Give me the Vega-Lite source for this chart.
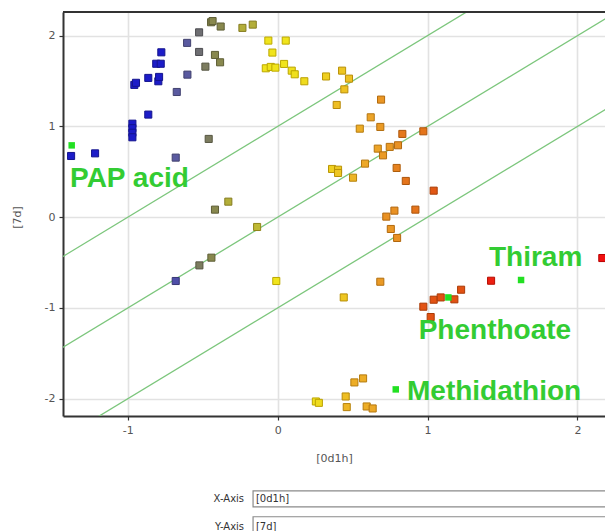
{
  "$schema": "https://vega.github.io/schema/vega-lite/v6.json",
  "autosize": "none",
  "width": 542,
  "height": 404,
  "padding": {"left": 63, "top": 12, "right": 0, "bottom": 115},
  "background": "white",
  "config": {
    "view": {"stroke": null},
    "axis": {
      "grid": true,
      "gridColor": "#e2e2e2",
      "gridWidth": 1.6,
      "domainColor": "#333333",
      "domainWidth": 2,
      "tickColor": "#333333",
      "tickSize": 4,
      "tickWidth": 1.2,
      "labelFont": "DejaVu Sans",
      "labelFontSize": 11,
      "labelColor": "#555555",
      "titleFont": "DejaVu Sans",
      "titleFontSize": 11,
      "titleFontWeight": "normal",
      "titleColor": "#555555"
    }
  },
  "datasets": {
    "points": [
      {"x": -1.378, "y": 0.674, "v": 0},
      {"x": -1.218, "y": 0.703, "v": 0},
      {"x": -0.969, "y": 1.03, "v": 0},
      {"x": -0.969, "y": 0.98, "v": 0},
      {"x": -0.969, "y": 0.93, "v": 0},
      {"x": -0.969, "y": 0.88, "v": 0},
      {"x": -0.863, "y": 1.13, "v": 0},
      {"x": -0.956, "y": 1.457, "v": 0},
      {"x": -0.945, "y": 1.48, "v": 0},
      {"x": -0.863, "y": 1.534, "v": 0},
      {"x": -0.796, "y": 1.497, "v": 0},
      {"x": -0.791, "y": 1.545, "v": 0},
      {"x": -0.81, "y": 1.69, "v": 0},
      {"x": -0.78, "y": 1.69, "v": 0},
      {"x": -0.776, "y": 1.816, "v": 0},
      {"x": -0.673, "y": 1.379, "v": 0.15},
      {"x": -0.602, "y": 1.57, "v": 0.15},
      {"x": -0.604, "y": 1.92, "v": 0.15},
      {"x": -0.68, "y": 0.656, "v": 0.15},
      {"x": -0.68, "y": -0.703, "v": 0.12},
      {"x": -0.524, "y": 2.036, "v": 0.25},
      {"x": -0.524, "y": 1.82, "v": 0.25},
      {"x": -0.482, "y": 1.658, "v": 0.32},
      {"x": -0.46, "y": 0.862, "v": 0.32},
      {"x": -0.522, "y": -0.531, "v": 0.32},
      {"x": -0.444, "y": 2.147, "v": 0.38},
      {"x": -0.434, "y": 2.16, "v": 0.38},
      {"x": -0.38, "y": 2.1, "v": 0.38},
      {"x": -0.418, "y": 1.787, "v": 0.38},
      {"x": -0.384, "y": 1.706, "v": 0.38},
      {"x": -0.418, "y": 0.083, "v": 0.38},
      {"x": -0.442, "y": -0.446, "v": 0.38},
      {"x": -0.329, "y": 0.171, "v": 0.45},
      {"x": -0.235, "y": 2.085, "v": 0.45},
      {"x": -0.166, "y": 2.121, "v": 0.45},
      {"x": -0.137, "y": -0.108, "v": 0.47},
      {"x": -0.062, "y": 1.945, "v": 0.55},
      {"x": 0.054, "y": 1.945, "v": 0.55},
      {"x": -0.035, "y": 1.813, "v": 0.55},
      {"x": -0.079, "y": 1.64, "v": 0.55},
      {"x": -0.046, "y": 1.655, "v": 0.55},
      {"x": -0.015, "y": 1.647, "v": 0.55},
      {"x": 0.043, "y": 1.688, "v": 0.55},
      {"x": 0.094, "y": 1.614, "v": 0.56},
      {"x": 0.114, "y": 1.574, "v": 0.56},
      {"x": -0.009, "y": -0.703, "v": 0.55},
      {"x": 0.178, "y": 1.497, "v": 0.57},
      {"x": 0.255, "y": -2.03, "v": 0.56},
      {"x": 0.275, "y": -2.045, "v": 0.57},
      {"x": 0.323, "y": 1.55, "v": 0.6},
      {"x": 0.43, "y": 1.614, "v": 0.62},
      {"x": 0.476, "y": 1.526, "v": 0.63},
      {"x": 0.445, "y": 1.408, "v": 0.63},
      {"x": 0.394, "y": 1.236, "v": 0.64},
      {"x": 0.363, "y": 0.531, "v": 0.6},
      {"x": 0.403, "y": 0.523, "v": 0.61},
      {"x": 0.403, "y": 0.487, "v": 0.62},
      {"x": 0.441, "y": -0.884, "v": 0.62},
      {"x": 0.454, "y": -1.975, "v": 0.64},
      {"x": 0.548, "y": 0.975, "v": 0.68},
      {"x": 0.621, "y": 1.1, "v": 0.7},
      {"x": 0.503, "y": 0.435, "v": 0.66},
      {"x": 0.583, "y": 0.59, "v": 0.69},
      {"x": 0.668, "y": 0.755, "v": 0.7},
      {"x": 0.703, "y": 0.681, "v": 0.72},
      {"x": 0.748, "y": 0.774, "v": 0.72},
      {"x": 0.685, "y": 0.994, "v": 0.72},
      {"x": 0.69, "y": 1.295, "v": 0.73},
      {"x": 0.803, "y": 0.792, "v": 0.74},
      {"x": 0.725, "y": 0.006, "v": 0.74},
      {"x": 0.779, "y": 0.072, "v": 0.74},
      {"x": 0.755, "y": -0.13, "v": 0.73},
      {"x": 0.797, "y": -0.229, "v": 0.74},
      {"x": 0.685, "y": -0.711, "v": 0.72},
      {"x": 0.57, "y": -1.776, "v": 0.68},
      {"x": 0.512, "y": -1.82, "v": 0.68},
      {"x": 0.461, "y": -2.092, "v": 0.66},
      {"x": 0.594, "y": -2.085, "v": 0.68},
      {"x": 0.634, "y": -2.107, "v": 0.69},
      {"x": 0.832, "y": 0.917, "v": 0.79},
      {"x": 0.794, "y": 0.542, "v": 0.77},
      {"x": 0.855, "y": 0.399, "v": 0.8},
      {"x": 0.919, "y": 0.083, "v": 0.8},
      {"x": 0.972, "y": 0.946, "v": 0.8},
      {"x": 1.041, "y": 0.292, "v": 0.86},
      {"x": 0.972, "y": -0.986, "v": 0.87},
      {"x": 1.041, "y": -0.909, "v": 0.87},
      {"x": 1.088, "y": -0.884, "v": 0.87},
      {"x": 1.179, "y": -0.905, "v": 0.87},
      {"x": 1.224, "y": -0.799, "v": 0.87},
      {"x": 1.021, "y": -1.1, "v": 0.87},
      {"x": 1.424, "y": -0.7, "v": 0.97},
      {"x": 2.166, "y": -0.45, "v": 1}
    ],
    "highlights": [
      {"x": -1.374, "y": 0.791},
      {"x": 1.139, "y": -0.884},
      {"x": 1.624, "y": -0.692},
      {"x": 0.788, "y": -1.897}
    ],
    "labels": [
      {"x": -1.385, "y": 0.333, "label": "PAP acid"},
      {"x": 1.41, "y": -0.542, "label": "Thiram"},
      {"x": 0.941, "y": -1.342, "label": "Phenthoate"},
      {"x": 0.863, "y": -2.011, "label": "Methidathion"}
    ],
    "lines": [
      {"line": "upper", "x": -1.6, "y": -0.6},
      {"line": "upper", "x": 2.4, "y": 3.4},
      {"line": "middle", "x": -1.6, "y": -1.6},
      {"line": "middle", "x": 2.4, "y": 2.4},
      {"line": "lower", "x": -1.6, "y": -2.6},
      {"line": "lower", "x": 2.4, "y": 1.4}
    ],
    "one": [{}]
  },
  "layer": [
    {
      "data": {"name": "lines"},
      "mark": {"type": "line", "clip": true, "color": "#7cc67c", "strokeWidth": 1.3},
      "encoding": {
        "x": {"field": "x", "type": "quantitative", "scale": {"domain": [-1.432, 2.184], "nice": false, "zero": false},
          "axis": {"title": "[0d1h]", "values": [-1, 0, 1, 2], "labelExpr": "datum.value + ''", "labelPadding": 4, "titleBaseline": "middle", "titleY": 42}},
        "y": {"field": "y", "type": "quantitative", "scale": {"domain": [-2.19, 2.26], "nice": false, "zero": false},
          "axis": {"title": "[7d]", "values": [-2, -1, 0, 1, 2], "labelExpr": "datum.value + ''", "labelPadding": 4, "titleX": -46, "titleY": 205, "titleBaseline": "middle"}},
        "detail": {"field": "line"}
      }
    },
    {
      "data": {"name": "points"},
      "mark": {"type": "point", "shape": "square", "filled": true, "size": 50, "strokeWidth": 1, "opacity": 1},
      "encoding": {
        "x": {"field": "x", "type": "quantitative"},
        "y": {"field": "y", "type": "quantitative"},
        "fill": {"field": "v", "type": "quantitative", "legend": null,
          "scale": {"domain": [0, 0.15, 0.25, 0.38, 0.55, 0.7, 0.85, 1], "interpolate": "rgb",
                    "range": ["#1c1cc8", "#5a5aa0", "#6e6e72", "#88884e", "#f0e41c", "#eca428", "#e05c14", "#f01010"]}},
        "stroke": {"field": "v", "type": "quantitative", "legend": null,
          "scale": {"domain": [0, 0.15, 0.25, 0.38, 0.55, 0.7, 0.85, 1], "interpolate": "rgb",
                    "range": ["#14148e", "#40406e", "#4c4c50", "#5e5e36", "#bca800", "#b47410", "#a84408", "#b80000"]}}
      }
    },
    {
      "data": {"name": "highlights"},
      "mark": {"type": "point", "shape": "square", "filled": true, "size": 42, "color": "#22e022", "opacity": 1},
      "encoding": {
        "x": {"field": "x", "type": "quantitative"},
        "y": {"field": "y", "type": "quantitative"}
      }
    },
    {
      "data": {"name": "labels"},
      "mark": {"type": "text", "align": "left", "baseline": "alphabetic", "font": "Liberation Sans", "fontWeight": "bold", "fontSize": 28, "color": "#33cc33"},
      "encoding": {
        "x": {"field": "x", "type": "quantitative"},
        "y": {"field": "y", "type": "quantitative"},
        "text": {"field": "label"}
      }
    },
    {
      "data": {"name": "one"},
      "mark": {"type": "rule", "color": "#333333", "strokeWidth": 2},
      "encoding": {
        "y": {"datum": 2.26, "type": "quantitative"}
      }
    },
    {
      "data": {"name": "one"},
      "mark": {"type": "rect", "fill": "white", "stroke": "#8a8a8a", "strokeWidth": 1.2},
      "encoding": {
        "x": {"datum": -0.164, "type": "quantitative"},
        "x2": {"datum": 2.5},
        "y": {"datum": -3.014, "type": "quantitative"},
        "y2": {"datum": -3.19}
      }
    },
    {
      "data": {"name": "one"},
      "mark": {"type": "rect", "fill": "white", "stroke": "#8a8a8a", "strokeWidth": 1.2},
      "encoding": {
        "x": {"datum": -0.164, "type": "quantitative"},
        "x2": {"datum": 2.5},
        "y": {"datum": -3.30, "type": "quantitative"},
        "y2": {"datum": -3.6}
      }
    },
    {
      "data": {"name": "one"},
      "mark": {"type": "text", "align": "right", "baseline": "middle", "font": "DejaVu Sans", "fontSize": 10, "color": "#333333", "text": "X-Axis"},
      "encoding": {
        "x": {"datum": -0.224, "type": "quantitative"},
        "y": {"datum": -3.102, "type": "quantitative"}
      }
    },
    {
      "data": {"name": "one"},
      "mark": {"type": "text", "align": "right", "baseline": "middle", "font": "DejaVu Sans", "fontSize": 10, "color": "#333333", "text": "Y-Axis"},
      "encoding": {
        "x": {"datum": -0.224, "type": "quantitative"},
        "y": {"datum": -3.41, "type": "quantitative"}
      }
    },
    {
      "data": {"name": "one"},
      "mark": {"type": "text", "align": "left", "baseline": "middle", "font": "DejaVu Sans", "fontSize": 10, "color": "#333333", "text": "[0d1h]"},
      "encoding": {
        "x": {"datum": -0.145, "type": "quantitative"},
        "y": {"datum": -3.102, "type": "quantitative"}
      }
    },
    {
      "data": {"name": "one"},
      "mark": {"type": "text", "align": "left", "baseline": "middle", "font": "DejaVu Sans", "fontSize": 10, "color": "#333333", "text": "[7d]"},
      "encoding": {
        "x": {"datum": -0.145, "type": "quantitative"},
        "y": {"datum": -3.41, "type": "quantitative"}
      }
    }
  ]
}
